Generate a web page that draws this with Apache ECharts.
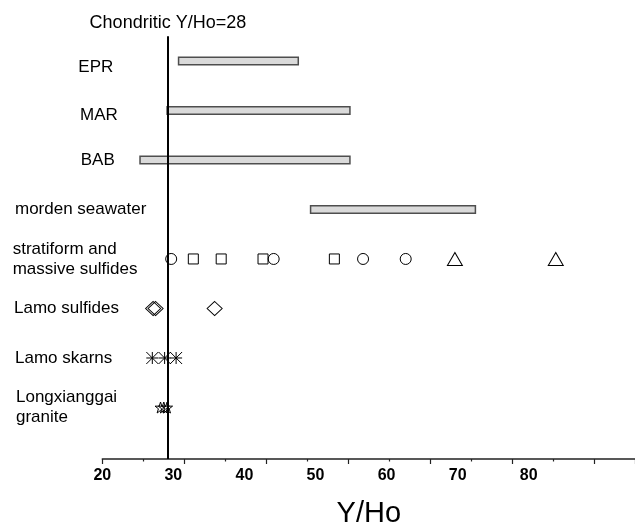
<!DOCTYPE html>
<html>
<head>
<meta charset="utf-8">
<script src="https://cdn.jsdelivr.net/npm/echarts@6/dist/echarts.min.js"></script>
<style>
  html, body { margin: 0; padding: 0; background: #fff; }
  #chart { width: 635px; height: 522px; }
</style>
</head>
<body>
<div id="chart"></div>
<script>
// Rows, top to bottom
const categories = [
  'EPR',
  'MAR',
  'BAB',
  'morden seawater',
  'stratiform and\nmassive sulfides',
  'Lamo sulfides',
  'Lamo skarns',
  'Longxianggai\ngranite'
];

// Y/Ho ranges of the fluid / seawater reference fields (rows 1-4)
const rangeLow  = [29.3, 27.9, 24.6, 45.4];
const rangeHigh = [43.9, 50.2, 50.2, 65.5];

// stratiform and massive sulfides (row 5)
const stratCircles   = [28.4, 40.9, 51.8, 57.0];
const stratSquares   = [31.1, 34.5, 39.6, 48.3];
const stratTriangles = [63.0, 75.3];

// Lamo deposit (rows 6-7)
const lamoSulfides = [26.2, 26.5, 33.7];
const lamoSkarns   = [26.1, 27.6, 29.0];

// Longxianggai granite (row 8)
const graniteValues = [27.1, 27.5, 27.9];

const chondriticYHo = 28;
const tickLabels = ['20', '30', '40', '50', '60', '70', '80'];

const rowOf = i => i + 1;
const rowMax = 9.04;

const ASTERISK = 'path://M0,0L12,12M0,12L12,0M0,6L12,6M6,0L6,12';
const STAR = 'path://M6,0L7.4,4.3L12,4.3L8.3,7L9.7,11.4L6,8.7L2.3,11.4L3.7,7L0,4.3L4.6,4.3Z';

const hollow = { color: 'transparent', borderColor: '#000', borderWidth: 1, opacity: 1 };

function pointsOn(values, row) {
  return values.map(v => [v, row]);
}

// per-row label placement (left inset and small vertical nudge)
const labelRich = {};
const labelPad = [[13, 66], [9, 67.7], [0, 68.4], [0, 2.7], [0, 0.4], [0, 1.7], [0, 2.7], [0, 3.7]];
labelPad.forEach((p, i) => {
  labelRich['r' + i] = {
    fontSize: 17,
    fontFamily: 'Liberation Sans, Arial, sans-serif',
    color: '#000',
    lineHeight: 20,
    padding: [p[0], 0, 0, p[1]]
  };
});

const chart = echarts.init(document.getElementById('chart'));

chart.setOption({
  animation: false,
  backgroundColor: '#fff',
  grid: { left: 102.3, top: 11.4, width: 533, height: 447.6, containLabel: false, outerBoundsMode: 'none' },
  xAxis: [
    {
      type: 'value',
      min: 20,
      max: 85,
      interval: 10,
      position: 'bottom',
      axisLine: { show: true, onZero: false, lineStyle: { color: '#222', width: 1.5 } },
      axisTick: { show: true, length: 5, lineStyle: { color: '#222', width: 1.2 } },
      minorTick: { show: true, splitNumber: 2, length: 2.5, lineStyle: { color: '#222', width: 1.2 } },
      axisLabel: { show: false },
      splitLine: { show: false },
      name: 'Y/Ho',
      nameLocation: 'middle',
      nameGap: 40,
      nameTextStyle: { fontSize: 29, fontFamily: 'Liberation Sans, Arial, sans-serif', color: '#000' }
    },
    {
      type: 'value',
      min: 20,
      max: 95,
      interval: 10,
      position: 'bottom',
      axisLine: { show: false },
      axisTick: { show: false },
      splitLine: { show: false },
      axisLabel: {
        show: true,
        margin: 9,
        fontSize: 16,
        fontWeight: 'bold',
        fontFamily: 'Liberation Sans Narrow, Arial Narrow, Liberation Sans, sans-serif',
        color: '#000',
        formatter: v => (tickLabels.indexOf(String(v)) >= 0 ? String(v) : '')
      }
    }
  ],
  yAxis: {
    type: 'value',
    min: 0,
    max: rowMax,
    interval: 1,
    inverse: true,
    axisLine: { show: false },
    axisTick: { show: false },
    splitLine: { show: false },
    axisLabel: {
      show: true,
      align: 'left',
      margin: 90,
      formatter: v => {
        const i = Math.round(v) - 1;
        if (Math.abs(v - Math.round(v)) > 1e-6 || i < 0 || i >= categories.length) return '';
        return '{r' + i + '|' + categories[i] + '}';
      },
      rich: labelRich
    }
  },
  series: [
    {
      name: 'ranges',
      type: 'custom',
      data: rangeLow.map((lo, i) => [lo, rangeHigh[i], rowOf(i)]),
      renderItem: (params, api) => {
        const a = api.coord([api.value(0), api.value(2)]);
        const b = api.coord([api.value(1), api.value(2)]);
        const h = 7.5;
        return {
          type: 'rect',
          shape: { x: a[0], y: a[1] - h / 2, width: b[0] - a[0], height: h },
          style: { fill: '#dadada', stroke: '#4e4e4e', lineWidth: 1.5 }
        };
      },
      z: 2
    },
    {
      name: 'chondritic',
      type: 'scatter',
      data: [],
      markLine: {
        silent: true,
        symbol: 'none',
        animation: false,
        lineStyle: { color: '#000', width: 2, type: 'solid' },
        label: {
          show: true,
          position: 'end',
          distance: 4,
          formatter: 'Chondritic Y/Ho=' + chondriticYHo,
          fontSize: 18,
          fontFamily: 'Liberation Sans, Arial, sans-serif',
          color: '#000'
        },
        data: [[{ coord: [chondriticYHo, rowMax] }, { coord: [chondriticYHo, 0.5] }]]
      },
      z: 3
    },
    {
      name: 'strat circles', type: 'scatter', symbol: 'circle', symbolSize: 11,
      data: pointsOn(stratCircles, rowOf(4)), itemStyle: hollow, z: 4
    },
    {
      name: 'strat squares', type: 'scatter', symbol: 'rect', symbolSize: 10,
      data: pointsOn(stratSquares, rowOf(4)), itemStyle: hollow, z: 4
    },
    {
      name: 'strat triangles', type: 'scatter', symbol: 'triangle', symbolSize: [15, 13],
      data: pointsOn(stratTriangles, rowOf(4)), itemStyle: hollow, z: 4
    },
    {
      name: 'Lamo sulfides', type: 'scatter', symbol: 'diamond', symbolSize: [15, 14],
      data: pointsOn(lamoSulfides, rowOf(5)), itemStyle: hollow, z: 4
    },
    {
      name: 'Lamo skarns', type: 'scatter', symbol: ASTERISK, symbolSize: 12,
      data: pointsOn(lamoSkarns, rowOf(6)), itemStyle: hollow, z: 4
    },
    {
      name: 'Longxianggai granite', type: 'scatter', symbol: STAR, symbolSize: 11,
      data: pointsOn(graniteValues, rowOf(7)), itemStyle: hollow, z: 4
    }
  ]
});
</script>
</body>
</html>
